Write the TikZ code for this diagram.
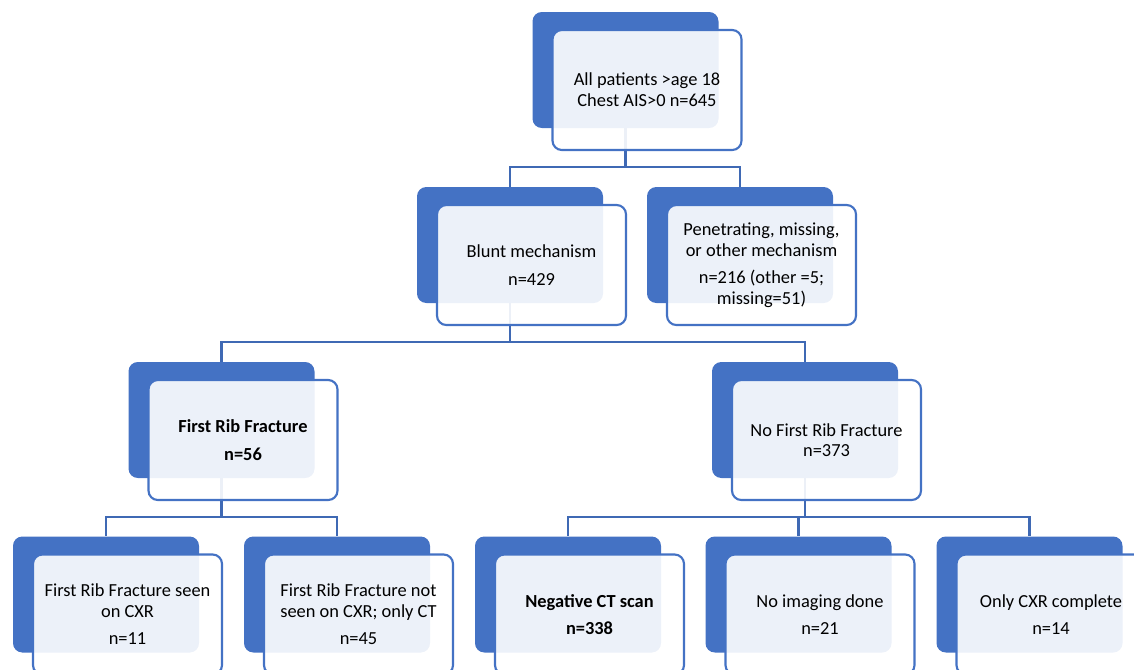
\documentclass[tikz,border=0pt]{standalone}
\usepackage{fontspec}
\setmainfont{Carlito}
\usetikzlibrary{positioning, calc}
\definecolor{boxblue}{HTML}{4472C4}
\definecolor{lineblue}{HTML}{3F69B4}

\begin{document}
\begin{tikzpicture}[
	x=0.75pt, y=-0.75pt,
	back/.style={rectangle, rounded corners=7pt, fill=boxblue, minimum width=139.5pt, minimum height=87pt},
	front/.style={rectangle, draw=boxblue, line width=1.6pt, rounded corners=7pt, fill=white, fill opacity=0.9, text opacity=1, minimum width=141.75pt, minimum height=90pt, inner sep=2pt, font=\fontsize{13.8}{15.5}\selectfont, align=center},
	link/.style={draw=lineblue, line width=1.6pt}
]
\useasboundingbox (0,0) rectangle (1134,669);

% Back plates
\node[back] (Ab) at (625.5,70) {};
\node[back] (Bb) at (510,245) {};
\node[back] (Cb) at (740,245) {};
\node[back] (Db) at (221.5,420) {};
\node[back] (Eb) at (805,420) {};
\node[back] (Fb) at (106,594.5) {};
\node[back] (Gb) at (337,594.5) {};
\node[back] (Hb) at (568,594.5) {};
\node[back] (Ib) at (798.5,594.5) {};
\node[back] (Jb) at (1029.5,594.5) {};

% Tree links
\draw[link] (Ab.south) -- ++(0,39) -| (Bb.north);
\draw[link] (Ab.south) -- ++(0,39) -| (Cb.north);
\draw[link] (Bb.south) -- ++(0,39) -| (Db.north);
\draw[link] (Bb.south) -- ++(0,39) -| (Eb.north);
\draw[link] (Db.south) -- ++(0,39) -| (Fb.north);
\draw[link] (Db.south) -- ++(0,39) -| (Gb.north);
\draw[link] (Eb.south) -- ++(0,39) -| (Hb.north);
\draw[link] (Eb.south) -- ++(0,39) -| (Ib.north);
\draw[link] (Eb.south) -- ++(0,39) -| (Jb.north);

% Text boxes
\node[front] (A) at ($(Ab)+(21.5,20)$) {All patients >age 18\\Chest AIS>0 n=645};
\node[front] (B) at ($(Bb)+(21.5,20)$) {Blunt mechanism\\[5pt]n=429};
\node[front] (C) at ($(Cb)+(21.5,20)$) {Penetrating, missing,\\or other mechanism\\[5pt]n=216 (other =5;\\missing=51)};
\node[front] (D) at ($(Db)+(21.5,20)$) {\textbf{First Rib Fracture}\\[5pt]\textbf{n=56}};
\node[front] (E) at ($(Eb)+(21.5,20)$) {No First Rib Fracture\\n=373};
\node[front] (F) at ($(Fb)+(21.5,20)$) {First Rib Fracture seen\\on CXR\\[5pt]n=11};
\node[front] (G) at ($(Gb)+(21.5,20)$) {First Rib Fracture not\\seen on CXR; only CT\\[5pt]n=45};
\node[front] (H) at ($(Hb)+(21.5,20)$) {\textbf{Negative CT scan}\\[5pt]\textbf{n=338}};
\node[front] (I) at ($(Ib)+(21.5,20)$) {No imaging done\\[5pt]n=21};
\node[front] (J) at ($(Jb)+(21.5,20)$) {Only CXR complete\\[5pt]n=14};

\end{tikzpicture}
\end{document}
